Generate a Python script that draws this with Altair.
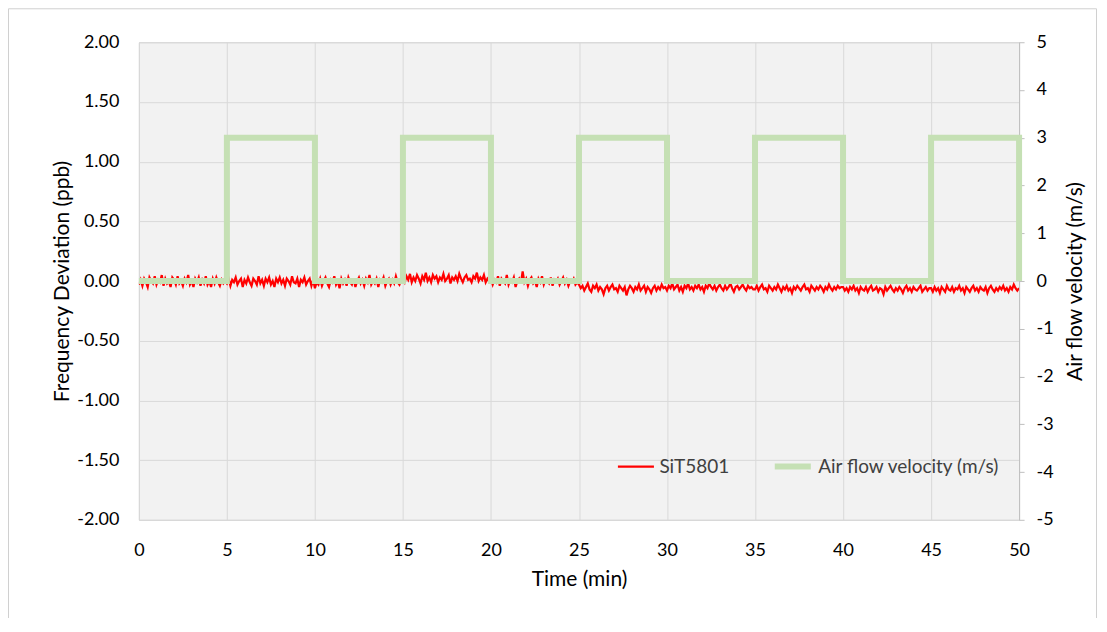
import altair as alt
import pandas as pd

seg1 = [-0.03, 0.01, -0.04, 0.02, -0.01, -0.05, 0.03, 0.00, -0.02, 0.04,
        -0.03, 0.01, -0.01, 0.05, -0.04, 0.02, -0.02, 0.00, -0.05, 0.03,
        0.01, -0.03, 0.04, -0.02, 0.00, -0.04, 0.02, -0.01, 0.05, -0.03,
        0.00, -0.05, 0.02, -0.01, 0.03, -0.04, 0.01, -0.02, 0.04, -0.03,
        0.00, -0.05, 0.02, -0.02, 0.03, -0.01, -0.04, 0.01, -0.02, 0.00]
seg2 = [-0.02, 0.02, -0.04, 0.01, -0.01, 0.03, -0.03, 0.00, 0.02, -0.05,
        0.01, -0.02, 0.03, -0.01, -0.04, 0.02, 0.00, -0.03, 0.04, -0.02,
        0.01, -0.04, 0.02, -0.01, 0.03, -0.03, 0.00, -0.05, 0.02, -0.01,
        0.03, -0.02, 0.01, -0.04, 0.02, 0.00, -0.03, 0.04, -0.01, -0.02,
        0.02, -0.05, 0.01, -0.01, 0.03, -0.03, 0.00, 0.02, -0.04, 0.01]
seg3 = [-0.06, -0.01, -0.03, 0.02, -0.04, 0.00, 0.03, -0.02, -0.05, 0.01,
        -0.01, 0.04, -0.03, 0.00, -0.06, 0.02, -0.02, 0.01, -0.04, 0.03,
        -0.01, -0.03, 0.02, -0.05, 0.00, 0.03, -0.02, 0.01, -0.04, 0.02,
        -0.01, 0.05, -0.03, 0.00, -0.02, 0.02, -0.05, 0.01, -0.01, 0.03,
        -0.04, 0.00, 0.02, -0.03, 0.01, -0.02, 0.04, -0.01, -0.03, 0.01]
seg4 = [0.02, -0.01, 0.04, 0.01, 0.06, -0.01, 0.03, 0.00, 0.05, 0.02,
        -0.02, 0.04, 0.01, 0.07, 0.00, 0.03, -0.01, 0.05, 0.02, 0.04,
        -0.01, 0.03, 0.01, 0.06, 0.00, 0.02, 0.05, -0.02, 0.03, 0.01,
        0.04, 0.00, 0.06, 0.02, -0.01, 0.03, 0.05, 0.01, 0.02, -0.01,
        0.04, 0.02, 0.07, 0.00, 0.03, 0.01, 0.05, -0.01, 0.02, 0.00]
seg5 = [0.02, -0.03, 0.01, -0.01, 0.04, -0.04, 0.02, 0.00, -0.02, 0.05,
        -0.03, 0.01, -0.01, 0.03, -0.05, 0.00, 0.02, -0.02, 0.08, -0.01,
        0.02, -0.04, 0.01, 0.03, -0.02, 0.00, -0.05, 0.02, -0.01, 0.04,
        -0.03, 0.01, 0.00, -0.02, 0.03, -0.04, 0.01, -0.01, 0.02, -0.03,
        0.00, 0.03, -0.02, 0.01, -0.04, 0.00, -0.01, 0.02, -0.03, -0.01]
seg6 = [-0.03, -0.06, -0.04, -0.08, -0.05, -0.02, -0.07, -0.09, -0.04, -0.06,
        -0.03, -0.08, -0.05, -0.07, -0.11, -0.06, -0.04, -0.08, -0.05, -0.03,
        -0.07, -0.06, -0.09, -0.04, -0.06, -0.08, -0.05, -0.12, -0.07, -0.04,
        -0.06, -0.09, -0.05, -0.07, -0.03, -0.08, -0.06, -0.04, -0.09, -0.05,
        -0.07, -0.10, -0.06, -0.04, -0.08, -0.05, -0.07, -0.03, -0.06, -0.05]
seg7 = [-0.08, -0.04, -0.06, -0.02, -0.07, -0.05, -0.03, -0.08, -0.05, -0.09,
        -0.04, -0.06, -0.02, -0.07, -0.05, -0.08, -0.04, -0.06, -0.03, -0.07,
        -0.05, -0.09, -0.04, -0.06, -0.02, -0.05, -0.07, -0.04, -0.08, -0.05,
        -0.03, -0.06, -0.08, -0.04, -0.07, -0.05, -0.02, -0.06, -0.09, -0.05,
        -0.04, -0.07, -0.05, -0.03, -0.06, -0.08, -0.04, -0.06, -0.05, -0.07]
seg8 = [-0.07, -0.04, -0.08, -0.05, -0.03, -0.07, -0.06, -0.09, -0.04, -0.06,
        -0.08, -0.05, -0.07, -0.03, -0.06, -0.09, -0.05, -0.07, -0.04, -0.08,
        -0.06, -0.10, -0.05, -0.07, -0.04, -0.06, -0.08, -0.05, -0.03, -0.07,
        -0.06, -0.09, -0.04, -0.06, -0.08, -0.05, -0.07, -0.04, -0.06, -0.09,
        -0.05, -0.07, -0.03, -0.06, -0.08, -0.05, -0.07, -0.04, -0.06, -0.05]
seg9 = [-0.05, -0.08, -0.06, -0.09, -0.05, -0.07, -0.04, -0.08, -0.06, -0.10,
        -0.05, -0.07, -0.08, -0.05, -0.09, -0.06, -0.04, -0.08, -0.07, -0.05,
        -0.09, -0.06, -0.07, -0.11, -0.05, -0.08, -0.06, -0.04, -0.07, -0.09,
        -0.06, -0.08, -0.05, -0.07, -0.10, -0.06, -0.04, -0.08, -0.06, -0.09,
        -0.05, -0.07, -0.08, -0.06, -0.04, -0.09, -0.07, -0.05, -0.08, -0.06]
seg10 = [-0.06, -0.09, -0.05, -0.08, -0.06, -0.10, -0.05, -0.07, -0.09, -0.04,
         -0.07, -0.08, -0.05, -0.09, -0.06, -0.07, -0.04, -0.08, -0.06, -0.10,
         -0.05, -0.07, -0.09, -0.06, -0.04, -0.08, -0.06, -0.09, -0.05, -0.07,
         -0.08, -0.05, -0.10, -0.06, -0.04, -0.07, -0.09, -0.06, -0.08, -0.05,
         -0.07, -0.04, -0.08, -0.06, -0.09, -0.05, -0.07, -0.03, -0.06, -0.08, -0.06]
sit_values = seg1 + seg2 + seg3 + seg4 + seg5 + seg6 + seg7 + seg8 + seg9 + seg10
sample_step = 0.1
sit_time = [round(i * sample_step, 2) for i in range(len(sit_values))]

# Air flow velocity (m/s) step profile
air_time = [0, 5, 5, 10, 10, 15, 15, 20, 20, 25, 25, 30, 30, 35, 35, 40, 40, 45, 45, 50, 50]
air_vel = [0, 0, 3, 3, 0, 0, 3, 3, 0, 0, 3, 3, 0, 0, 3, 3, 0, 0, 3, 3, 0]

x_ticks = [0, 5, 10, 15, 20, 25, 30, 35, 40, 45, 50]
left_ticks = [-2, -1.5, -1, -0.5, 0, 0.5, 1, 1.5, 2]
right_ticks = [-5, -4, -3, -2, -1, 0, 1, 2, 3, 4, 5]

series_names = ["SiT5801", "Air flow velocity (m/s)"]
series_colors = ["#ff0000", "#c5e0b4"]

sit_df = pd.DataFrame({"t": sit_time, "v": sit_values, "series": series_names[0],
                       "ord": list(range(len(sit_values)))})
air_df = pd.DataFrame({"t": air_time, "v": air_vel, "series": series_names[1],
                       "ord": list(range(len(air_time)))})

FONT = "Lato"
MINUS_FIX = "replace(datum.label, '\u2212', '-')"
color_scale = alt.Scale(domain=series_names, range=series_colors)
width_scale = alt.Scale(domain=series_names, range=[2.2, 6])

x_enc = alt.X("t:Q", scale=alt.Scale(domain=[0, 50], nice=False),
              axis=alt.Axis(title="Time (min)", values=x_ticks, format="d",
                            grid=True, gridColor="#d9d9d9", ticks=False, domain=False,
                            labelFlush=False, labelPadding=22, titlePadding=9))

legend = alt.Legend(title=None, orient="none", direction="horizontal", legendX=478, legendY=403,
                    symbolType="stroke", symbolSize=1300, labelFontSize=19, labelFont=FONT,
                    labelColor="#404040", columnPadding=32, labelOffset=4, labelLimit=0)

red = alt.Chart(sit_df).mark_line(clip=True).encode(
    x=x_enc,
    y=alt.Y("v:Q", scale=alt.Scale(domain=[-2, 2], nice=False),
            axis=alt.Axis(title="Frequency Deviation (ppb)", values=left_ticks,
                          format=".2f", labelExpr=MINUS_FIX, grid=True, gridColor="#d9d9d9",
                          ticks=False, domain=False, labelPadding=20, titlePadding=4,
                          orient="left")),
    color=alt.Color("series:N", scale=color_scale, legend=legend),
    strokeWidth=alt.StrokeWidth("series:N", scale=width_scale, legend=None),
    order="ord:Q",
)

green = alt.Chart(air_df).mark_line(strokeJoin="miter", strokeCap="butt").encode(
    x=alt.X("t:Q", scale=alt.Scale(domain=[0, 50], nice=False)),
    y=alt.Y("v:Q", scale=alt.Scale(domain=[-5, 5], nice=False),
            axis=alt.Axis(title="Air flow velocity (m/s)", values=right_ticks, format="d",
                          labelExpr=MINUS_FIX, grid=False, orient="right", ticks=True,
                          tickSize=5, tickColor="#bfbfbf", domain=True, domainColor="#bfbfbf",
                          labelPadding=12, titleAngle=270, titlePadding=32)),
    color=alt.Color("series:N", scale=color_scale, legend=legend),
    strokeWidth=alt.StrokeWidth("series:N", scale=width_scale, legend=None),
    order="ord:Q",
)

frame = alt.Chart(pd.DataFrame({"a": [0]})).mark_rect(
    fill="transparent", stroke="#d0d0d0", strokeWidth=1
).encode(
    x=alt.value(-130.5), x2=alt.value(958.5), y=alt.value(-33.5), y2=alt.value(583.5)
)

chart = alt.layer(frame, red, green).resolve_scale(y="independent").properties(
    width=881, height=478,
    autosize=alt.AutoSizeParams(type="none"),
    padding={"left": 131, "top": 34, "right": 80, "bottom": 98},
    background="white",
).configure_view(
    fill="#f2f2f2", stroke="#d0d0d0", strokeWidth=1
).configure_axis(
    labelFont=FONT, titleFont=FONT, labelFontSize=18, titleFontSize=21,
    labelColor="#000000", titleColor="#000000", titleFontWeight="normal",
)

chart.save("out.html", embed_options={"renderer": "svg", "actions": False})
